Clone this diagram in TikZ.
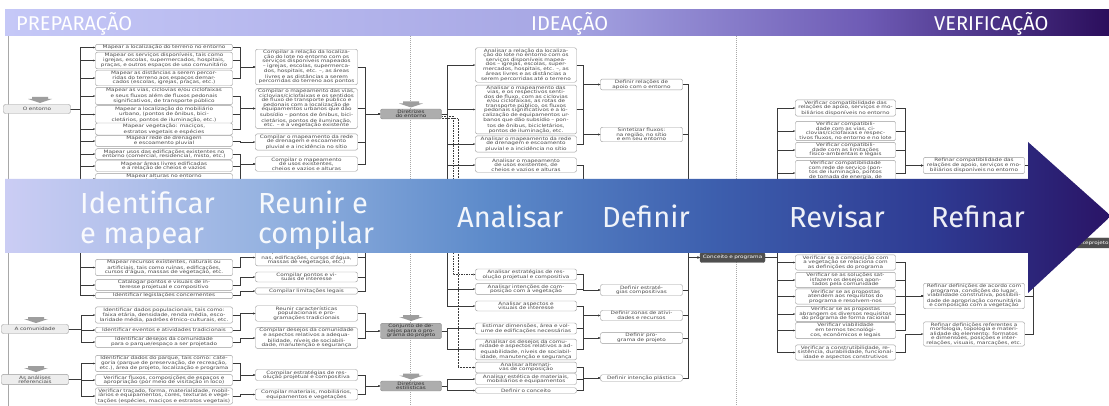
\documentclass[tikz,border=0pt]{standalone}
\usepackage{fontspec}
\usepackage{tikz}
\usetikzlibrary{arrows.meta, calc}
\setmainfont{DejaVu Sans}
\newfontfamily\boxfont[FakeStretch=1.27]{DejaVu Sans}
\newfontfamily\bandfont{Fira Sans}
\definecolor{boxline}{HTML}{9B9B9B}
\definecolor{boxtext}{HTML}{4A4A4A}
\definecolor{topicfill}{HTML}{EDEDED}
\definecolor{dirfill}{HTML}{ADADAD}
\definecolor{dirline}{HTML}{8C8C8C}
\definecolor{dirtext}{HTML}{2E2E2E}
\definecolor{darkfill}{HTML}{4F4F4F}
\definecolor{linkgray}{HTML}{3A3A3A}
\definecolor{sepgray}{HTML}{A8A8A8}
\definecolor{chevgray}{HTML}{9E9E9E}
\definecolor{hdrlight}{HTML}{C5C8F7}
\definecolor{hdrmid}{HTML}{A7A7E4}
\definecolor{hdrdeep}{HTML}{6E5BB5}
\definecolor{hdrdark}{HTML}{2B0E5C}
\definecolor{bandA}{HTML}{CBCDF4}
\definecolor{bandB}{HTML}{94B2E0}
\definecolor{bandC}{HTML}{5C8ACA}
\definecolor{bandD}{HTML}{3D5FAE}
\definecolor{bandE}{HTML}{2E3A92}
\definecolor{bandF}{HTML}{2A1466}
\pgfdeclarehorizontalshading{bandshade}{100bp}{color(0bp)=(bandA); color(25bp)=(bandA); color(37bp)=(bandB); color(47bp)=(bandC); color(57bp)=(bandD); color(67bp)=(bandE); color(75bp)=(bandF); color(100bp)=(bandF)}
\pgfdeclarehorizontalshading{hdrshade}{100bp}{color(0bp)=(hdrlight); color(25bp)=(hdrlight); color(50bp)=(hdrmid); color(64bp)=(hdrdeep); color(75bp)=(hdrdark); color(100bp)=(hdrdark)}
\tikzset{
  basebox/.style={draw=boxline, line width=0.45pt, rounded corners=2pt, fill=white, align=center, inner xsep=2pt, inner ysep=1pt, text=boxtext, font=\boxfont\fontsize{4.5}{4.5}\selectfont},
  mapbox/.style={basebox, text width=133pt},
  compbox/.style={basebox, text width=98pt},
  analbox/.style={basebox, text width=97pt},
  defbox/.style={basebox, text width=78pt},
  verbox/.style={basebox, text width=96pt},
  refbox/.style={basebox, text width=97pt},
  topicbox/.style={basebox, fill=topicfill, text width=63pt, minimum height=9pt},
  dirbox/.style={basebox, fill=dirfill, draw=dirline, text=dirtext, text width=57pt},
  darkbox/.style={basebox, fill=darkfill, draw=darkfill, text=white, minimum height=10pt},
  arr/.style={-{Stealth[length=2.2pt,width=1.8pt]}, line width=0.45pt, linkgray},
  dasharr/.style={arr, dash pattern=on 1.5pt off 1pt},
  dotarr/.style={arr, dash pattern=on 0.6pt off 0.9pt},
  sepline/.style={sepgray, line width=0.5pt, dash pattern=on 1pt off 1pt},
  bandword/.style={font=\bandfont\fontsize{29}{30}\selectfont, text=white, text opacity=0.92, inner sep=0pt, align=left},
  phaseword/.style={font=\bandfont\fontsize{20}{20}\selectfont, text=white, inner sep=0pt},
  downtab/.pic={\fill[chevgray] (-8,0) -- (8,0) -- (8,2) -- (12,2) -- (0,6) -- (-12,2) -- (-8,2) -- cycle;}
}

\begin{document}
\begin{tikzpicture}[x=1pt, y=-1pt]
\useasboundingbox (0,0) rectangle (1109,406);
\clip (0,0) rectangle (1109,406);
\fill[white] (0,0) rectangle (1109,406);

% ===== FRAME AND PHASE SEPARATORS =====
\draw[sepgray, line width=0.5pt] (8,36) -- (8,406);
\draw[sepline] (410,36) -- (410,406);
\draw[sepline] (736,36) -- (736,406);

% ===== TOPICS =====
\node[topicbox] (ent) at (37,109) {O entorno};
\node[topicbox] (com) at (35,329) {A comunidade};
\node[topicbox] (ref) at (35,379.5) {As análises\\referenciais};
\pic at (40,97) {downtab};
\pic at (36,317) {downtab};
\pic at (36,366) {downtab};

% ===== IDENTIFICAR E MAPEAR =====
\node[mapbox] (m1)  at (164,47.5) {Mapear a localização do terreno no entorno};
\node[mapbox] (m2)  at (164,60.5) {Mapear os serviços disponíveis, tais como igrejas, escolas, supermercados, hospitais, praças, e outros espaços de uso comunitário};
\node[mapbox] (m3)  at (164,78)   {Mapear as distâncias a serem percorridas do terreno aos espaços demarcados (escolas, igrejas, praças, etc.)};
\node[mapbox] (m4)  at (164,96)   {Mapear as vias, ciclovias e/ou ciclofaixas e seus fluxos além de fluxos pedonais significativos, de transporte público};
\node[mapbox] (m5)  at (164,114.5) {Mapear a localização do mobiliário urbano, (pontos de ônibus, bicicletários, pontos de iluminação, etc.)};
\node[mapbox] (m6)  at (164,129)  {Mapear vegetação: maciços, estratos vegetais e espécies};
\node[mapbox] (m7)  at (164,141)  {Mapear rede de drenagem e escoamento pluvial};
\node[mapbox] (m8)  at (164,154)  {Mapear usos das edificações existentes no entorno (comercial, residencial, misto, etc.)};
\node[mapbox] (m9)  at (164,166)  {Mapear áreas livres edificadas e a relação de cheios e vazios};
\node[mapbox] (m10) at (164,179)  {Mapear alturas no entorno e projeção de sombras};
\node[mapbox] (m11) at (164,267.5) {Mapear recursos existentes, naturais ou artificiais, tais como ruínas, edificações, cursos d'água, massas de vegetação, etc.};
\node[mapbox] (m12) at (164,285)  {Catalogar pontos e visuais de interesse projetual e compositivo};
\node[mapbox] (m13) at (164,295.5) {Identificar legislações concernentes};
\node[mapbox] (m14) at (164,315)  {Identificar dados populacionais, tais como: faixa etária, densidade, renda média, escolaridade média, padrões étnico-culturais, etc.};
\node[mapbox] (m15) at (164,330)  {Identificar eventos e atividades tradicionais};
\node[mapbox] (m16) at (164,342)  {Identificar desejos da comunidade para o parque/espaço a ser projetado};
\node[mapbox] (m17) at (164,363.5) {Identificar dados do parque, tais como: categoria (parque de preservação, de recreação, etc.), área de projeto, localização e programa};
\node[mapbox] (m18) at (164,380)  {Verificar fluxos, composições de espaços e apropriação (por meio de visitação in loco)};
\node[mapbox] (m19) at (164,396)  {Verificar traçado, forma, materialidade, mobiliários e equipamentos, cores, texturas e vegetações (espécies, maciços e estratos vegetais)};

% ===== REUNIR E COMPILAR =====
\node[compbox] (c1)  at (306.5,67)    {Compilar a relação da localização do lote no entorno com os serviços disponíveis mapeados – igrejas, escolas, supermercados, hospitais, etc. –, as áreas livres e as distâncias a serem percorridas do terreno aos pontos};
\node[compbox] (c2)  at (306.5,108.5) {Compilar o mapeamento das vias, ciclovias/ciclofaixas e os sentidos de fluxo de transporte público e pedonais com a localização de equipamentos urbanos que dão subsídio – pontos de ônibus, bicicletários, pontos de iluminação, etc. – e a vegetação existente};
\node[compbox] (c3)  at (306.5,142)   {Compilar o mapeamento da rede de drenagem e escoamento pluvial e a incidência no sítio};
\node[compbox] (c4)  at (306.5,164)   {Compilar o mapeamento de usos existentes, cheios e vazios e alturas};
\node[compbox] (c5)  at (306.5,257.5) {Compilar recursos existentes (ruínas, edificações, cursos d'água, massas de vegetação, etc.)};
\node[compbox] (c6)  at (306.5,277)   {Compilar pontos e visuais de interesse};
\node[compbox] (c7)  at (306.5,291)   {Compilar limitações legais};
\node[compbox] (c8)  at (306.5,313.5) {Reunir características populacionais e programações tradicionais};
\node[compbox] (c9)  at (306.5,338)   {Compilar desejos da comunidade e aspectos relativos a adequabilidade, níveis de sociabilidade, manutenção e segurança};
\node[compbox] (c10) at (306.5,375)   {Compilar estratégias de resolução projetual e compositiva};
\node[compbox] (c11) at (306.5,394.5) {Compilar materiais, mobiliários, equipamentos e vegetações};

% ===== DIRETRIZES =====
\node[dirbox] (gEnt)  at (411,114) {Diretrizes do entorno};
\node[dirbox] (gConj) at (411,331) {Conjunto de desejos para o programa do projeto};
\node[dirbox] (gEst)  at (411,386) {Diretrizes estilísticas};
\pic at (411,101.5) {downtab};
\pic at (411,315) {downtab};
\pic at (411,373.5) {downtab};
\coordinate (hidDir) at (380,215);
\coordinate (hidDef) at (600,215);

% ===== ANALISAR =====
\node[analbox] (a1)  at (526,65)    {Analisar a relação da localização do lote no entorno com os serviços disponíveis mapeados – igrejas, escolas, supermercados, hospitais, etc. –, as áreas livres e as distâncias a serem percorridas até o terreno};
\node[analbox] (a2)  at (526,109.5) {Analisar o mapeamento das vias, e os respectivos sentidos de fluxo, com as ciclovias e/ou ciclofaixas, as rotas de transporte público, os fluxos pedonais significativos e a localização de equipamentos urbanos que dão subsídio – pontos de ônibus, bicicletários, pontos de iluminação, etc.};
\node[analbox] (a3)  at (526,144)   {Analisar o mapeamento da rede de drenagem e escoamento pluvial e a incidência no sítio};
\node[analbox] (a4)  at (526,165)   {Analisar o mapeamento de usos existentes, de cheios e vazios e alturas};
\node[analbox] (a5)  at (526,274.5) {Analisar estratégias de resolução projetual e compositiva};
\node[analbox] (a6)  at (526,289)   {Analisar intenções de composição com a vegetação};
\node[analbox] (a7)  at (526,306)   {Analisar aspectos e visuais de interesse};
\node[analbox] (a8)  at (526,328.5) {Estimar dimensões, área e volume de edificações necessárias};
\node[analbox] (a9)  at (526,349.5) {Analisar os desejos da comunidade e aspectos relativos a adequabilidade, níveis de sociabilidade, manutenção e segurança};
\node[analbox] (a10) at (526,367.5) {Analisar alternativas de composição};
\node[analbox] (a11) at (526,379)   {Analisar estética de materiais, mobiliários e equipamentos};
\node[analbox] (a12) at (526,390.5) {Definir o conceito};

% ===== DEFINIR =====
\node[defbox] (d1) at (641.5,84.5) {Definir relações de apoio com o entorno};
\node[defbox] (d2) at (641.5,134.5) {Sintetizar fluxos: na região, no sítio e em seu entorno};
\node[defbox] (d3) at (641.5,290) {Definir estratégias compositivas};
\node[defbox] (d4) at (641.5,315.5) {Definir zonas de atividades e recursos};
\node[defbox] (d5) at (641.5,338) {Definir programa de projeto};
\node[defbox] (d6) at (641.5,378) {Definir intenção plástica};
\node[darkbox, text width=61pt] (gProg) at (732.5,257.5) {Conceito e programa};

% ===== REVISAR =====
\node[verbox] (v1)  at (845.5,108)   {Verificar compatibilidade das relações de apoio, serviços e mobiliários disponíveis no entorno};
\node[verbox] (v2)  at (845.5,131)   {Verificar compatibilidade com as vias, ciclovias/ciclofaixas e respectivos fluxos, no entorno e no lote};
\node[verbox] (v3)  at (845.5,150)   {Verificar compatibilidade com as limitações físico-ambientais e legais};
\node[verbox] (v4)  at (845.5,173)   {Verificar compatibilidade com rede de serviço (pontos de iluminação, pontos de tomada de energia, de gás, rede de esgoto, etc.)};
\node[verbox] (v5)  at (845.5,262.5) {Verificar se a composição com a vegetação se relaciona com as definições do programa};
\node[verbox] (v6)  at (845.5,280)   {Verificar se as soluções satisfazem os desejos apontados pela comunidade};
\node[verbox] (v7)  at (845.5,296.5) {Verificar se as propostas atendem aos requisitos do programa e resolvem-nos};
\node[verbox] (v8)  at (845.5,314)   {Verificar se as propostas abrangem os diversos requisitos do programa de forma racional};
\node[verbox] (v9)  at (845.5,330.5) {Verificar viabilidade em termos tecnológicos, econômicos e legais};
\node[verbox] (v10) at (845.5,352.5) {Verificar a construtibilidade, resistência, durabilidade, funcionalidade e aspectos construtivos};

% ===== REFINAR =====
\node[refbox] (r1) at (974,165.5) {Refinar compatibilidade das relações de apoio, serviços e mobiliários disponíveis no entorno};
\node[refbox] (r2) at (974,296)   {Refinar definições de acordo com programa, condições do lugar, viabilidade construtiva, possibilidade de apropriação comunitária e composição com a vegetação};
\node[refbox] (r3) at (974,334)   {Refinar definições referentes a morfologia, topologia e materialidade do elemento: formatos e dimensões, posições e inter-relações, visuais, marcações, etc.};
\node[darkbox, anchor=west] (antep) at (1073,243) {Anteprojeto};

% ===== CONNECTORS =====
\foreach \t in {m1,m2,m3,m4,m5,m6,m7,m8,m9,m10,m11,m12,m13}
  \draw[arr] (ent.east) -- ++(9,0) |- (\t.west);
\foreach \t in {m14,m15,m16}
  \draw[arr] (com.east) -- ++(12,0) |- (\t.west);
\foreach \t in {m17,m18,m19}
  \draw[arr] (ref.east) -- ++(12,0) |- (\t.west);
\foreach \s/\t in {m1/c1,m2/c1,m3/c1,m4/c2,m5/c2,m6/c2,m7/c3,m8/c4,m9/c4,m10/c4,m11/c5,m12/c6,m13/c7,m14/c8,m15/c8,m16/c9,m17/c10,m18/c10,m19/c11}
  \draw[arr] (\s.east) -- ++(7,0) |- (\t.west);
\foreach \s/\t in {c1/gEnt,c2/gEnt,c3/gEnt,c4/gEnt,c5/hidDir,c6/hidDir,c7/hidDir,c8/gConj,c9/gConj,c10/gEst,c11/gEst}
  \draw[arr] (\s.east) -- ++(7,0) |- (\t);
\foreach \t in {a1,a2,a3,a4,a6,a7}
  \draw[arr] (gEnt.east) -- ++(5,0) |- (\t.west);
\draw[dasharr] ([yshift=-2.5pt]gEnt.east) -- ++(11,0) |- (a5.west);
\draw[dotarr] ([yshift=-4.5pt]gEnt.east) -- ++(16,0) |- (a10.west);
\foreach \t in {a8,a9}
  \draw[arr] (gConj.east) -- ++(5,0) |- (\t.west);
\foreach \t in {a11,a12}
  \draw[arr] (gEst.east) -- ++(5,0) |- (\t.west);
\foreach \s/\t in {a1/d1,a2/d1,a2/d2,a3/d2,a4/hidDef,a5/d3,a6/d3,a7/d4,a8/d4,a8/d5,a9/d5,a10/d6,a11/d6,a12/d6}
  \draw[arr] (\s.east) -- ++(6,0) |- (\t);
\foreach \s in {d1,d2,d3,d4,d5,d6}
  \draw[arr] (\s.east) -- ++(5,0) |- (gProg.west);
\foreach \t in {v1,v2,v3,v4,v5,v6,v7,v8,v9,v10}
  \draw[arr] (gProg.east) -- ++(12,0) |- (\t.west);
\foreach \s/\t in {v1/r1,v2/r1,v3/r1,v4/r1,v5/r2,v6/r2,v7/r2,v8/r2,v9/r2,v10/r3}
  \draw[arr] (\s.east) -- ++(9,0) |- (\t.west);
\foreach \s in {r1,r2,r3}
  \draw[arr] (\s.east) -- ++(8,0) |- (antep.west);

% ===== PROCESS ARROW =====
\shade[shading=bandshade] (5,179) -- (1028,179) -- (1028,142) -- (1111,216) -- (1028,293) -- (1028,253) -- (5,253) -- cycle;
\node[bandword, anchor=base west] (wIdent) at (80,244) {Identificar\\e mapear};
\node[bandword, anchor=base west] (wReun)  at (258,244) {Reunir e\\compilar};
\node[bandword, anchor=base west] (wAnal)  at (457,228) {Analisar};
\node[bandword, anchor=base west] (wDef)   at (602,228) {Definir};
\node[bandword, anchor=base west] (wRev)   at (789,228) {Revisar};
\node[bandword, anchor=base west] (wRef)   at (931,228) {Refinar};

% ===== PHASE HEADER =====
\shade[shading=hdrshade] (5,10) rectangle (1109,36);
\node[phaseword, anchor=base west] (hPrep) at (16,31)  {PREPARAÇÃO};
\node[phaseword, anchor=base west] (hIdea) at (531,31) {IDEAÇÃO};
\node[phaseword, anchor=base west] (hVeri) at (934,31) {VERIFICAÇÃO};

\end{tikzpicture}
\end{document}
